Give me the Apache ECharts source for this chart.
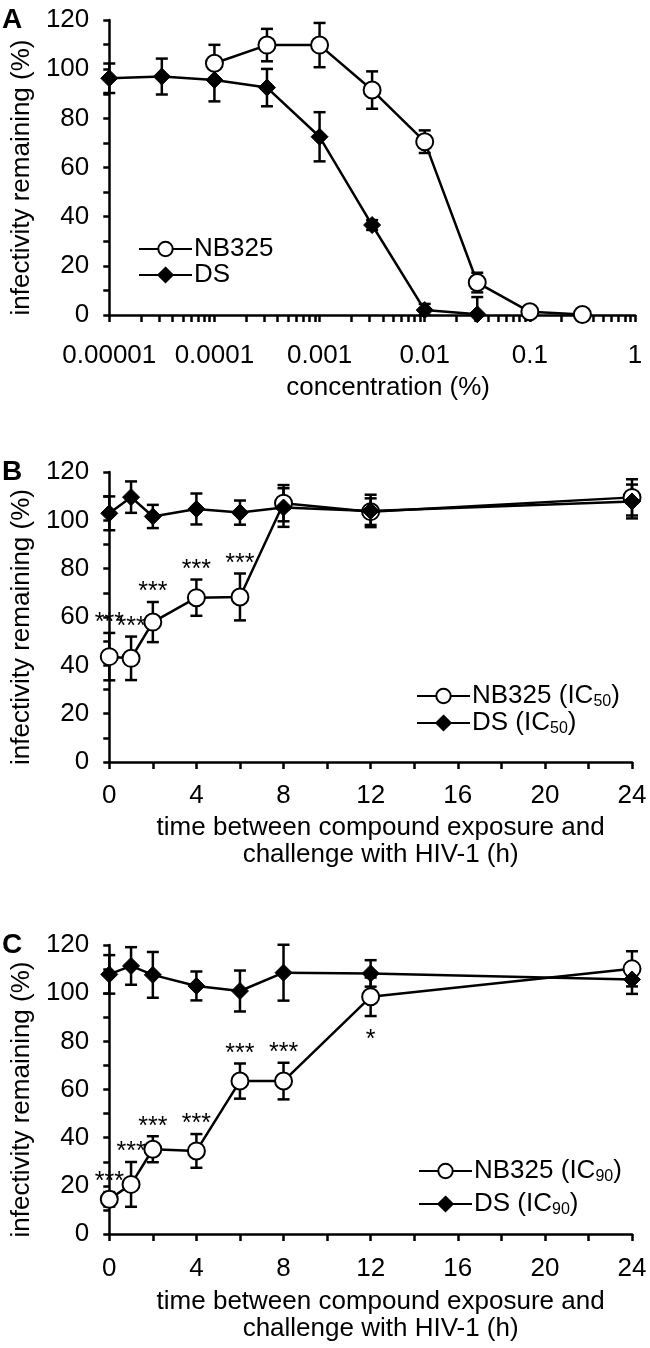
<!DOCTYPE html>
<html><head><meta charset="utf-8">
<script src="https://cdn.jsdelivr.net/npm/echarts@6/dist/echarts.min.js"></script>
<style>html,body{margin:0;padding:0;background:#fff}#c{width:650px;height:1348px}</style>
</head><body><div id="c"></div>
<script>
// ---------- Panel A: concentration (%) vs infectivity ----------
const concNB_A = [0.0001, 0.000316, 0.001, 0.00316, 0.01, 0.0316, 0.1, 0.316];
const nbA      = [102.4, 109.8, 109.8, 91.5, 70.5, 13.2, 1.3, 0.2];
const nbErrA   = [7.5, 6.6, 9.0, 7.6, 4.6, 4.0, 1.0, 0.5];
const concDS_A = [0.00001, 0.0000316, 0.0001, 0.000316, 0.001, 0.00316, 0.01, 0.0316];
const dsA      = [96.3, 97.0, 95.6, 92.5, 72.5, 36.6, 2.0, 0.3];
const dsErrA   = [6.0, 7.3, 8.7, 7.6, 10.0, 2.0, 2.5, 7.0];
const tickValsA   = [0.00001, 0.0001, 0.001, 0.01, 0.1, 1];
const tickLabelsA = ['0.00001', '0.0001', '0.001', '0.01', '0.1', '1'];

// ---------- Panel B: IC50 ----------
const timesB  = [0, 1, 2, 4, 6, 8, 12, 24];
const nbB     = [43.6, 42.9, 57.9, 68.0, 68.3, 107.1, 103.6, 109.5];
const nbErrB  = [9.8, 9.0, 8.3, 7.5, 9.7, 7.5, 5.5, 7.5];
const dsB     = [102.9, 109.6, 101.6, 104.7, 103.2, 105.3, 103.9, 107.8];
const dsErrB  = [7.0, 6.5, 4.8, 6.4, 5.0, 8.0, 6.7, 7.0];
const sigB    = ['***', '***', '***', '***', '***', '', '', ''];

// ---------- Panel C: IC90 ----------
const timesC  = [0, 1, 2, 4, 6, 8, 12, 24];
const nbC     = [14.4, 20.6, 35.2, 34.5, 63.5, 63.5, 98.5, 110.1];
const nbErrC  = [3.0, 9.3, 5.4, 7.0, 7.3, 7.6, 8.0, 7.3];
const dsC     = [107.8, 111.3, 107.6, 103.0, 100.9, 108.5, 108.2, 105.7];
const dsErrC  = [8.0, 7.8, 9.5, 6.0, 8.5, 11.6, 5.5, 6.0];
const sigC    = ['***', '***', '***', '***', '***', '***', '*', ''];

const namesA = ['NB325', 'DS'];
const namesB = ['NB325 (IC50)', 'DS (IC50)'];
const namesC = ['NB325 (IC90)', 'DS (IC90)'];
const yTitle = 'infectivity remaining (%)';
const xTitleA = 'concentration (%)';
const xTitleBC = 'time between compound exposure and\nchallenge with HIV-1 (h)';

const FONT = '"Liberation Sans", Arial, sans-serif';
const FS = 26;
const LW = 2.5;

// minor ticks for log axis (2..9 per decade)
const logTicksA = [];
for (let k = -5; k <= 0; k++) {
  const b = Math.pow(10, k);
  logTicksA.push(b);
  if (k < 0) for (let m = 2; m <= 9; m++) logTicksA.push(+(m * b).toPrecision(3));
}
const yTicks = []; for (let v = 0; v <= 120; v += 10) yTicks.push(v);
const xTicksT = []; for (let v = 0; v <= 24; v += 2) xTicksT.push(v);

function errRender(vals, errs) {
  return function (params, api) {
    const i = params.dataIndex;
    const x = api.value(0);
    const hi = vals[i] + errs[i], lo = Math.max(0, vals[i] - errs[i]);
    const t = api.coord([x, hi]), b = api.coord([x, lo]);
    const cw = 6, st = { stroke: '#000', lineWidth: LW };
    return { type: 'group', children: [
      { type: 'line', shape: { x1: t[0], y1: t[1], x2: b[0], y2: b[1] }, style: st },
      { type: 'line', shape: { x1: t[0] - cw, y1: t[1], x2: t[0] + cw, y2: t[1] }, style: st },
      { type: 'line', shape: { x1: b[0] - cw, y1: b[1], x2: b[0] + cw, y2: b[1] }, style: st }
    ]};
  };
}
function starRender(nb, nbErr, ds, dsErr, sig) {
  return function (params, api) {
    const i = params.dataIndex, s = sig[i];
    if (!s) return { type: 'group', children: [] };
    const top = nb[i] + nbErr[i], bot = nb[i] - nbErr[i];
    const below = top + 8 > ds[i] - dsErr[i];
    const p = api.coord([api.value(0), below ? bot : top]);
    return { type: 'text', x: p[0], y: below ? p[1] + 12 : p[1] + 3,
      style: { text: s, fontSize: 25, fontFamily: FONT, fill: '#000', align: 'center',
        verticalAlign: below ? 'top' : 'bottom' } };
  };
}

const grids = [
  { left: 100, top: 20, width: 535, height: 295 },
  { left: 100, top: 472, width: 532, height: 290 },
  { left: 100, top: 945, width: 532, height: 289 }
];

const axisCommon = {
  axisLine: { lineStyle: { color: '#000', width: LW } },
  splitLine: { show: false },
  axisLabel: { color: '#000', fontSize: FS, fontFamily: FONT },
  nameTextStyle: { color: '#000', fontSize: FS, fontFamily: FONT, lineHeight: 27 }
};

function yAxis(gi) {
  return Object.assign({}, axisCommon, {
    type: 'value', gridIndex: gi, min: 0, max: 120, interval: 20,
    name: yTitle, nameLocation: 'middle', nameRotate: 90, nameGap: 72,
    nameTextStyle: Object.assign({}, axisCommon.nameTextStyle, { padding: [0, 20, 0, 0] }),
    axisTick: { show: true, length: 6, lineStyle: { color: '#000', width: LW }, customValues: yTicks },
    axisLabel: Object.assign({}, axisCommon.axisLabel, { margin: 20 })
  });
}
function timeAxis(gi, gap, lm) {
  return Object.assign({}, axisCommon, {
    type: 'value', gridIndex: gi, min: 0, max: 24, interval: 4,
    name: xTitleBC, nameLocation: 'middle', nameGap: gap,
    nameTextStyle: Object.assign({}, axisCommon.nameTextStyle, { padding: [0, 0, 0, 20] }),
    axisTick: { show: true, length: 7, lineStyle: { color: '#000', width: LW }, customValues: xTicksT },
    axisLabel: Object.assign({}, axisCommon.axisLabel, { margin: lm })
  });
}

const richText = {
  a: { fontSize: FS, fontFamily: FONT, color: '#000', lineHeight: 28 },
  s: { fontSize: 16, fontFamily: FONT, color: '#000', lineHeight: 16, verticalAlign: 'bottom' }
};
function legendFmt(name) {
  const m = name.match(/^(.*\(IC)(\d+)(\))$/);
  if (m) return '{a|' + m[1] + '}{s|' + m[2] + '}{a|' + m[3] + '}';
  return '{a|' + name + '}';
}
function legend(names, left, top, gap) {
  return { data: names, orient: 'vertical', left: left, top: top, itemGap: gap,
    itemWidth: 53, itemHeight: 18, formatter: legendFmt,
    textStyle: { rich: richText, padding: [0, 0, 0, -3] }, selectedMode: false };
}

function lineSeries(name, xs, ys, xi, isNB) {
  return {
    name: name, type: 'line', xAxisIndex: xi, yAxisIndex: xi, z: isNB ? 3 : 4,
    data: xs.map((x, i) => [x, ys[i]]),
    symbol: isNB ? 'circle' : 'diamond', symbolSize: isNB ? 17 : [17, 17],
    lineStyle: { color: '#000', width: LW },
    itemStyle: isNB ? { color: '#fff', borderColor: '#000', borderWidth: 2 } : { color: '#000', borderColor: '#000', borderWidth: 1 },
    emphasis: { disabled: true }, animation: false
  };
}
function errSeries(xs, ys, es, xi) {
  return { type: 'custom', xAxisIndex: xi, yAxisIndex: xi, z: 2, silent: true,
    data: xs.map((x, i) => [x, ys[i]]), renderItem: errRender(ys, es), animation: false };
}
function starSeries(xs, nb, nbE, ds, dsE, sig, xi) {
  return { type: 'custom', xAxisIndex: xi, yAxisIndex: xi, z: 5, silent: true,
    data: xs.map((x, i) => [x, nb[i]]), renderItem: starRender(nb, nbE, ds, dsE, sig), animation: false };
}

const option = {
  backgroundColor: '#fff',
  animation: false,
  textStyle: { fontFamily: FONT },
  grid: grids,
  xAxis: [
    Object.assign({}, axisCommon, {
      type: 'log', logBase: 10, gridIndex: 0, min: 0.00001, max: 1,
      name: xTitleA, nameLocation: 'middle', nameGap: 59,
      nameTextStyle: Object.assign({}, axisCommon.nameTextStyle, { padding: [0, 0, 0, 32] }),
      axisTick: { show: true, length: 7, lineStyle: { color: '#000', width: LW }, customValues: logTicksA },
      axisLabel: Object.assign({}, axisCommon.axisLabel, { margin: 28, customValues: tickValsA,
        formatter: function (v) { const k = Math.round(Math.log10(v)) + 5; return tickLabelsA[k] !== undefined ? tickLabelsA[k] : ''; } })
    }),
    timeAxis(1, 52, 21), timeAxis(2, 54, 22)
  ],
  yAxis: [yAxis(0), yAxis(1), yAxis(2)],
  legend: [legend(namesA, 133, 231, 0), legend(namesB, 411, 678, 0), legend(namesC, 413, 1153, 6)],
  graphic: [
    { type: 'text', left: 2, top: 6, style: { text: 'A', font: 'bold 28px ' + FONT, fill: '#000' } },
    { type: 'text', left: 2, top: 458, style: { text: 'B', font: 'bold 28px ' + FONT, fill: '#000' } },
    { type: 'text', left: 2, top: 931, style: { text: 'C', font: 'bold 28px ' + FONT, fill: '#000' } }
  ],
  series: [
    errSeries(concNB_A, nbA, nbErrA, 0),
    errSeries(concDS_A, dsA, dsErrA, 0),
    lineSeries(namesA[0], concNB_A, nbA, 0, true),
    lineSeries(namesA[1], concDS_A, dsA, 0, false),

    errSeries(timesB, nbB, nbErrB, 1),
    errSeries(timesB, dsB, dsErrB, 1),
    lineSeries(namesB[0], timesB, nbB, 1, true),
    lineSeries(namesB[1], timesB, dsB, 1, false),
    starSeries(timesB, nbB, nbErrB, dsB, dsErrB, sigB, 1),

    errSeries(timesC, nbC, nbErrC, 2),
    errSeries(timesC, dsC, dsErrC, 2),
    lineSeries(namesC[0], timesC, nbC, 2, true),
    lineSeries(namesC[1], timesC, dsC, 2, false),
    starSeries(timesC, nbC, nbErrC, dsC, dsErrC, sigC, 2)
  ]
};
const chart = echarts.init(document.getElementById('c'), null, { renderer: 'canvas' });
chart.setOption(option);
</script></body></html>
